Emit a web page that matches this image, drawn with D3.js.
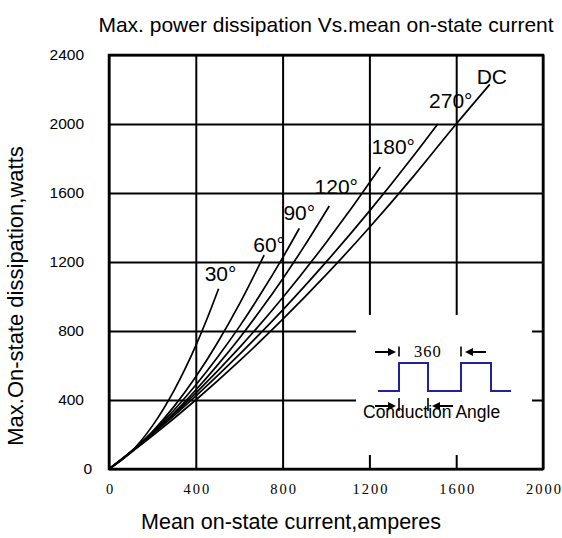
<!DOCTYPE html>
<html>
<head>
<meta charset="utf-8">
<script src="https://cdn.jsdelivr.net/npm/d3@7/dist/d3.min.js"></script>
<style>
  body { margin: 0; background: #fff; }
  svg { display: block; }
  .sans { font-family: "Liberation Sans", Arial, sans-serif; }
  .serif { font-family: "Liberation Serif", "Times New Roman", serif; }
</style>
</head>
<body>
<div id="chart"></div>
<script>
// axis ticks
const currentTicks = [0, 400, 800, 1200, 1600, 2000];
const powerTicks = [0, 400, 800, 1200, 1600, 2000, 2400];

// curves: [amperes, watts]
const deg30 = [[0, 0], [100, 98], [200, 250], [300, 456], [400, 715], [460, 897], [505, 1045]];
const deg60 = [[0, 0], [100, 96], [200, 217], [300, 363], [400, 535], [500, 732], [600, 954], [715, 1240]];
const deg90 = [[0, 0], [100, 98], [200, 212], [300, 342], [400, 487], [500, 648], [600, 824], [700, 1017], [800, 1224], [877, 1395]];
const deg120 = [[0, 0], [100, 97], [200, 206], [300, 326], [400, 458], [500, 602], [600, 757], [700, 924], [800, 1102], [900, 1292], [1015, 1525]];
const deg180 = [[0, 0], [100, 99], [200, 206], [300, 319], [400, 440], [600, 702], [800, 993], [1000, 1312], [1100, 1482], [1250, 1750]];
const deg270 = [[0, 0], [100, 99], [200, 202], [400, 423], [600, 663], [800, 921], [1000, 1199], [1200, 1495], [1400, 1810], [1515, 2000]];
const degDC = [[0, 0], [100, 94], [200, 192], [400, 400], [600, 625], [800, 867], [1000, 1125], [1200, 1400], [1400, 1692], [1600, 2000], [1755, 2230]];

const curveNames = ["30°", "60°", "90°", "120°", "180°", "270°", "DC"];
const curves = [deg30, deg60, deg90, deg120, deg180, deg270, degDC];

// label placement relative to the curve end (pixels)
const labelOffsets = [[2, -15], [5, -11], [0, -16], [7, -19], [13, -21], [13, -24], [2, -8]];

const W = 562, H = 538;
const margin = { top: 55, right: 19, bottom: 69, left: 109 };
const width = W - margin.left - margin.right;
const height = H - margin.top - margin.bottom;

const svg = d3.select("#chart").append("svg")
  .attr("width", W)
  .attr("height", H);

const g = svg.append("g")
  .attr("transform", `translate(${margin.left},${margin.top})`);

const x = d3.scaleLinear().domain([0, 2000]).range([0, width]);
const y = d3.scaleLinear().domain([0, 2400]).range([height, 0]);

// grid + tick labels
const xAxis = g.append("g")
  .attr("transform", `translate(0,${height})`)
  .call(d3.axisBottom(x).tickValues(currentTicks).tickFormat(d3.format("d"))
    .tickSize(-height).tickPadding(15));
xAxis.select(".domain").remove();
xAxis.selectAll("line").attr("stroke", "#000").attr("stroke-width", 2);
xAxis.selectAll("text")
  .attr("class", "serif")
  .attr("font-size", 14.5)
  .attr("letter-spacing", 2)
  .attr("dx", 1)
  .attr("fill", "#000");

const yAxis = g.append("g")
  .call(d3.axisLeft(y).tickValues(powerTicks).tickFormat(d3.format("d"))
    .tickSize(-width).tickPadding(25));
yAxis.select(".domain").remove();
yAxis.selectAll("line").attr("stroke", "#000").attr("stroke-width", 2);
yAxis.selectAll("text")
  .attr("class", "sans")
  .attr("font-size", 15.5)
  .attr("fill", "#000")
  .attr("dx", (d) => (d === 0 ? 8 : 0));

// curves
const line = d3.line()
  .x((d) => x(d[0]))
  .y((d) => y(d[1]))
  .curve(d3.curveMonotoneX);

g.append("g")
  .selectAll("path")
  .data(curves)
  .enter()
  .append("path")
  .attr("d", line)
  .attr("fill", "none")
  .attr("stroke", "#000")
  .attr("stroke-width", 1.7);

// curve labels
g.append("g")
  .selectAll("text")
  .data(curves)
  .enter()
  .append("text")
  .attr("class", "sans")
  .attr("font-size", 21)
  .attr("text-anchor", "middle")
  .attr("dominant-baseline", "central")
  .attr("x", (d, i) => x(d[d.length - 1][0]) + labelOffsets[i][0])
  .attr("y", (d, i) => y(d[d.length - 1][1]) + labelOffsets[i][1])
  .text((d, i) => curveNames[i]);

// inset: conduction angle sketch
const inset = svg.append("g").attr("transform", "translate(356,315)");
inset.append("rect")
  .attr("width", 176)
  .attr("height", 140)
  .attr("fill", "#fff");

const wave = [[22, 76], [43, 76], [43, 48], [72, 48], [72, 76], [105, 76], [105, 48], [135, 48], [135, 76], [155, 76]];
inset.append("path")
  .attr("d", d3.line()(wave))
  .attr("fill", "none")
  .attr("stroke", "#22229a")
  .attr("stroke-width", 2);

function tick(xp, y0, y1) {
  inset.append("line")
    .attr("x1", xp).attr("x2", xp)
    .attr("y1", y0).attr("y2", y1)
    .attr("stroke", "#000").attr("stroke-width", 1.6);
}

function arrow(tail, tip, yp) {
  const dir = tip > tail ? 1 : -1;
  inset.append("line")
    .attr("x1", tail).attr("x2", tip - dir * 5)
    .attr("y1", yp).attr("y2", yp)
    .attr("stroke", "#000").attr("stroke-width", 2);
  inset.append("path")
    .attr("d", `M${tip},${yp} L${tip - dir * 8},${yp - 4} L${tip - dir * 8},${yp + 4} Z`)
    .attr("fill", "#000");
}

// 360 span
arrow(19, 40, 37);
tick(43, 31.5, 41.5);
tick(105, 31.5, 41.5);
arrow(130, 109, 37);
inset.append("text")
  .attr("class", "serif")
  .attr("font-size", 16.5)
  .attr("letter-spacing", 1)
  .attr("x", 58)
  .attr("y", 42)
  .text("360");

// conduction span
arrow(19, 40, 91);
tick(43, 83, 96);
tick(72, 83, 96);
arrow(97, 76, 91);
inset.append("text")
  .attr("class", "sans")
  .attr("font-size", 17.5)
  .attr("x", 7)
  .attr("y", 103)
  .text("Conduction Angle");

// plot frame
g.append("rect")
  .attr("width", width)
  .attr("height", height)
  .attr("fill", "none")
  .attr("stroke", "#000")
  .attr("stroke-width", 2.5);

// titles
svg.append("text")
  .attr("class", "sans")
  .attr("font-size", 21)
  .attr("text-anchor", "middle")
  .attr("x", margin.left + width / 2)
  .attr("y", 32)
  .text("Max. power dissipation Vs.mean on-state current");

svg.append("text")
  .attr("class", "sans")
  .attr("font-size", 21.5)
  .attr("text-anchor", "middle")
  .attr("x", 291)
  .attr("y", 529)
  .text("Mean on-state current,amperes");

svg.append("text")
  .attr("class", "sans")
  .attr("font-size", 22)
  .attr("text-anchor", "middle")
  .attr("transform", "translate(23,296) rotate(-90)")
  .text("Max.On-state dissipation,watts");
</script>
</body>
</html>
